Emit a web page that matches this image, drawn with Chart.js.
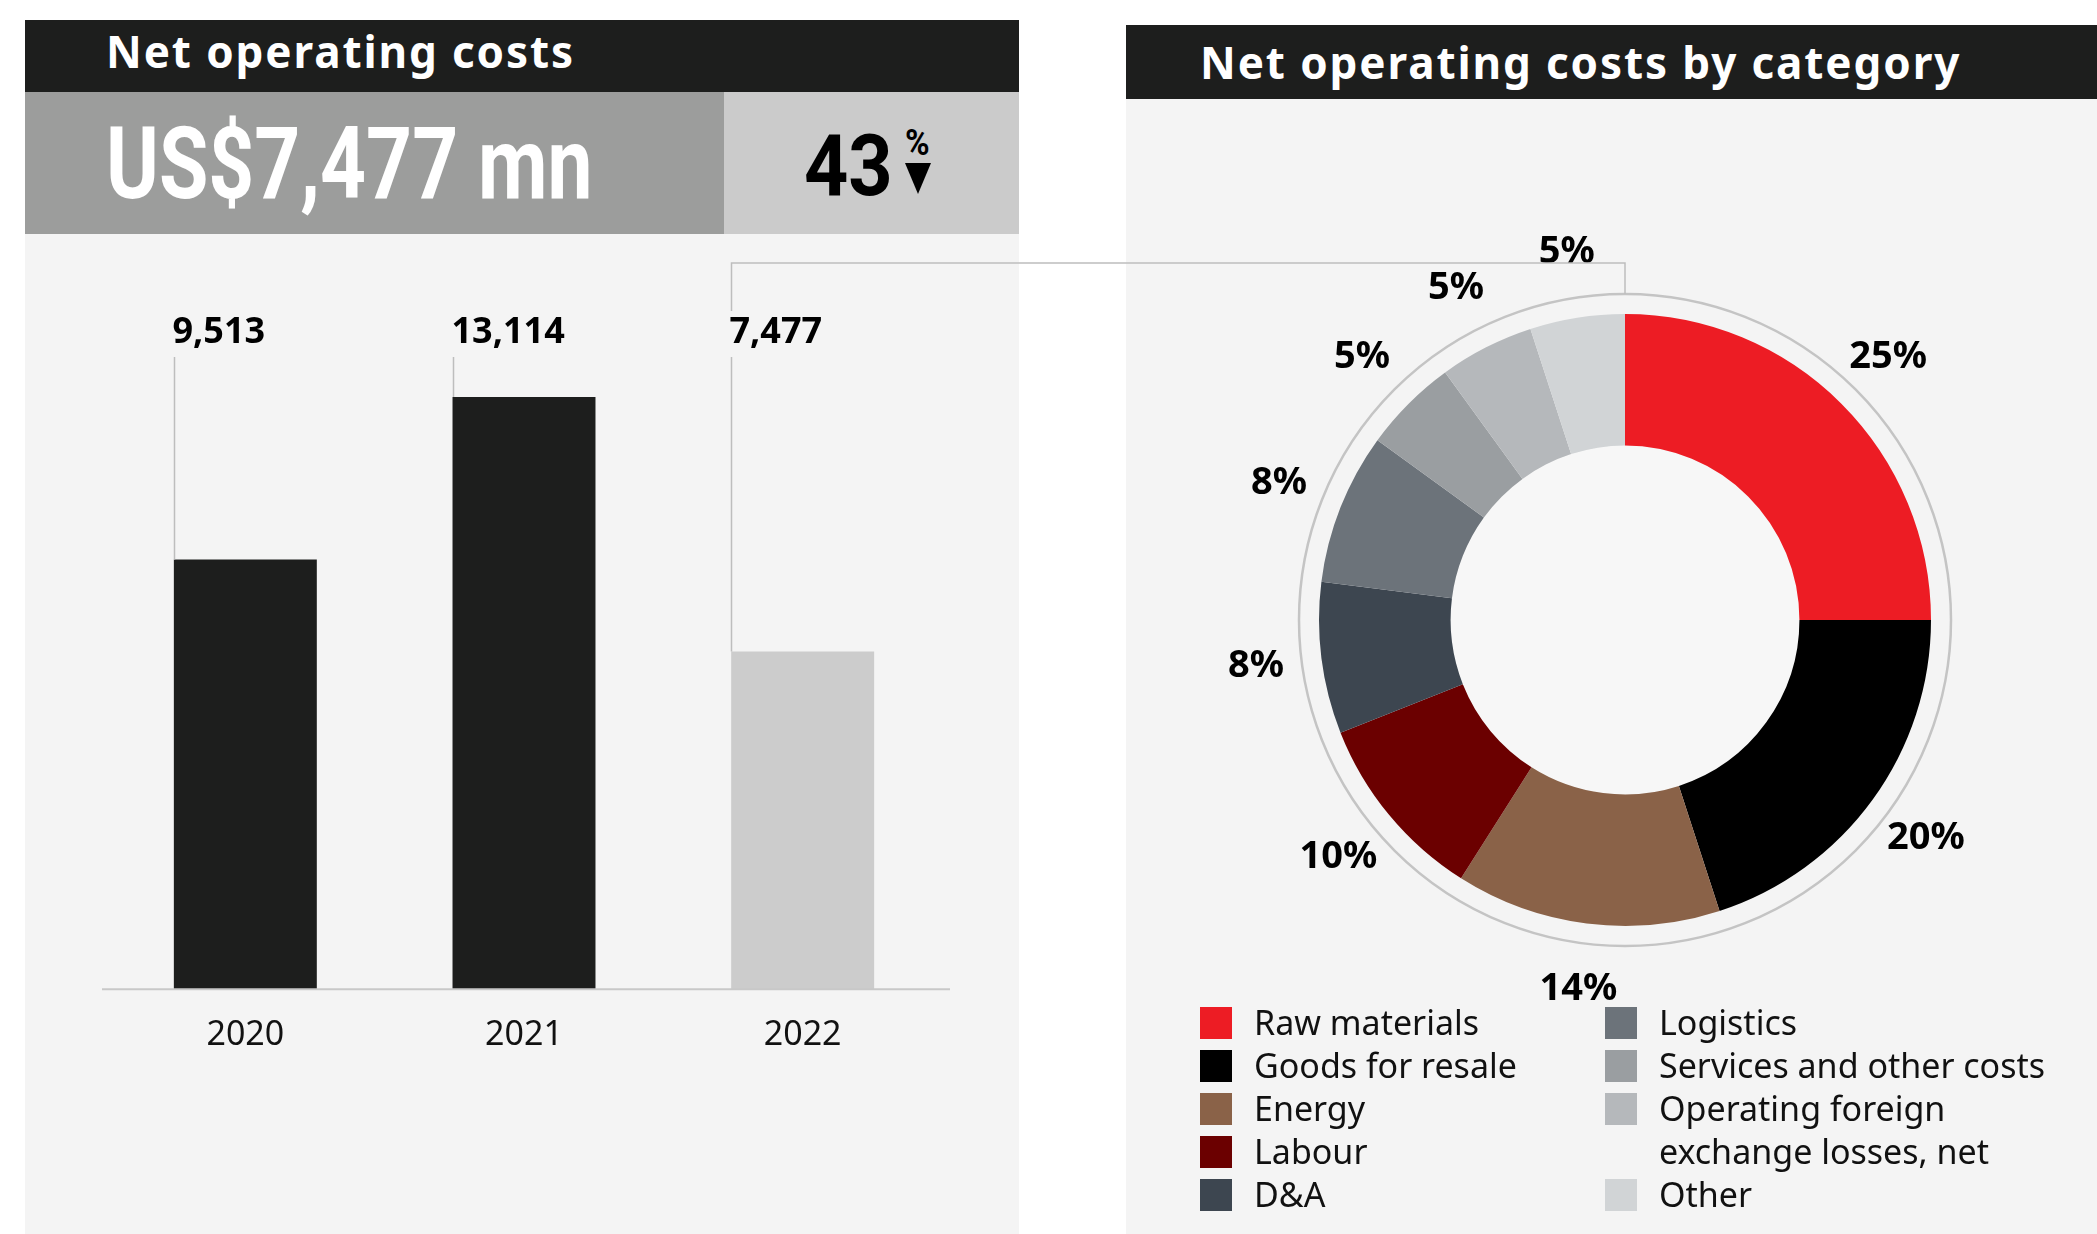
<!DOCTYPE html>
<html lang="en">
<head>
<meta charset="UTF-8">
<title>Net operating costs</title>
<script src="https://cdn.jsdelivr.net/npm/chart.js@4.4.0/dist/chart.umd.min.js"></script>
<style>
  body { margin: 0; background: #ffffff; font-family: "Noto Sans", sans-serif; }
  #page { position: relative; width: 2097px; height: 1234px; overflow: hidden; }
  .hdr { position: absolute; background: #1d1e1d; color: #ffffff; font-weight: 700; font-size: 44px; letter-spacing: 1.9px; }
  .hdr span { position: absolute; left: 0; white-space: nowrap; }
  #hdrL { left: 25px; top: 20px; width: 994px; height: 72px; line-height: 72px; }
  #hdrL span { left: 81px; top: -5px; }
  #hdrR { left: 1126px; top: 25px; width: 971px; height: 74px; line-height: 74px; }
  #hdrR span { left: 74px; top: 0; }
  #kpiL { position: absolute; left: 25px; top: 92px; width: 699px; height: 142px; background: #9c9d9c; }
  #kpiR { position: absolute; left: 724px; top: 92px; width: 295px; height: 142px; background: #cbcbcb; }
  .cond { position: absolute; font-family: Roboto, sans-serif; font-weight: 700; white-space: nowrap; transform-origin: 0 0; }
  #kpiVal { left: 81px; top: 22px; font-size: 100px; line-height: 100px; color: #ffffff; }
  #kpiPct { left: 80px; top: 31px; font-size: 86px; line-height: 86px; color: #000000; }
  #pctSign { left: 181px; top: 33px; font-size: 36px; line-height: 36px; color: #000000; }
  #arrow { position: absolute; left: 181px; top: 71px; width: 0; height: 0;
           border-left: 13px solid transparent; border-right: 13px solid transparent; border-top: 31px solid #000; }
  #barBox { position: absolute; left: 25px; top: 234px; width: 994px; height: 1000px; background: #f4f4f4; }
  #pieBox { position: absolute; left: 1126px; top: 99px; width: 971px; height: 1135px; background: #f4f4f4; }
  canvas { position: absolute; left: 0; top: 0; }
  #legend { position: absolute; left: 74px; top: 902px; font-size: 34px; color: #111; }
  .col { position: absolute; top: 0; }
  .item { position: relative; padding-left: 54px; line-height: 43px; margin: 0; }
  .sw { position: absolute; left: 0; top: 6px; width: 32px; height: 32px; }
  #overlay { position: absolute; left: 0; top: 0; width: 2097px; height: 1234px; pointer-events: none; }
</style>
</head>
<body>
<div id="page">
  <div class="hdr" id="hdrL"><span>Net operating costs</span></div>
  <div id="kpiL"><span class="cond" id="kpiVal">US$7,477 mn</span></div>
  <div id="kpiR">
    <span class="cond" id="kpiPct">43</span>
    <span class="cond" id="pctSign">%</span>
    <div id="arrow"></div>
  </div>
  <div id="barBox"><canvas id="barChart" width="994" height="1000"></canvas></div>

  <div class="hdr" id="hdrR"><span>Net operating costs by category</span></div>
  <div id="pieBox">
    <canvas id="pieChart" width="971" height="1135"></canvas>
    <div id="legend"></div>
  </div>
  <svg id="overlay" width="2097" height="1234"></svg>
</div>

<script>
// ---- data ----
const years = ['2020', '2021', '2022'];
const costs = [9513, 13114, 7477];
const costLabels = ['9,513', '13,114', '7,477'];
const barColors = ['#1d1e1d', '#1d1e1d', '#cccccc'];

const categories = ['Raw materials', 'Goods for resale', 'Energy', 'Labour', 'D&A',
  'Logistics', 'Services and other costs', 'Operating foreign exchange losses, net', 'Other'];
const shares = [25, 20, 14, 10, 8, 8, 5, 5, 5];
const catColors = ['#ed1c24', '#000000', '#8a6248', '#6b0000', '#3d4650',
  '#6c737a', '#9a9ea1', '#b5b8bb', '#d1d4d6'];

// squeeze condensed headline numbers to the width they take in the picture
function fitWidth(id, w) {
  const el = document.getElementById(id);
  el.style.transform = 'scaleX(' + (w / el.offsetWidth) + ')';
}
fitWidth('kpiVal', 487);
fitWidth('kpiPct', 89);
fitWidth('pctSign', 25);

// value labels + leader lines + base line of the bar chart
const barDecor = {
  id: 'barDecor',
  afterDatasetsDraw(chart) {
    const ctx = chart.ctx, area = chart.chartArea;
    const meta = chart.getDatasetMeta(0);
    const labelY = area.top - 24;
    ctx.save();
    ctx.strokeStyle = '#c8c8c8';
    ctx.lineWidth = 2;
    ctx.beginPath();
    ctx.moveTo(area.left - 4, area.bottom);
    ctx.lineTo(area.right + 8, area.bottom);
    ctx.stroke();

    meta.data.forEach((bar, i) => {
      const x = Math.round(bar.x - bar.width / 2) + 0.5;
      ctx.strokeStyle = '#bdbdbd';
      ctx.lineWidth = 1.5;
      ctx.beginPath();
      ctx.moveTo(x, labelY + 24);
      ctx.lineTo(x, bar.y);
      ctx.stroke();
      ctx.fillStyle = '#000';
      ctx.font = '700 36px "Noto Sans"';
      ctx.textAlign = 'left';
      ctx.textBaseline = 'middle';
      ctx.fillText(costLabels[i], x - 2, labelY);
    });
    ctx.restore();
  }
};

const barChart = new Chart(document.getElementById('barChart'), {
  type: 'bar',
  data: {
    labels: years,
    datasets: [{ data: costs, backgroundColor: barColors, borderWidth: 0,
      categoryPercentage: 1, barPercentage: 0.513 }]
  },
  options: {
    responsive: false,
    animation: false,
    layout: { padding: { left: 81, right: 77, top: 123, bottom: 152 } },
    plugins: { legend: { display: false }, tooltip: { enabled: false } },
    scales: {
      y: { display: false, min: 0, max: 14000 },
      x: {
        grid: { display: false, drawTicks: false },
        border: { display: false },
        ticks: { color: '#111', padding: 26, font: { family: 'Noto Sans', size: 34 } }
      }
    }
  },
  plugins: [barDecor]
});

// ring around the doughnut + percentage labels
const pieDecor = {
  id: 'pieDecor',
  beforeDatasetsDraw(chart) {
    const arc = chart.getDatasetMeta(0).data[0];
    const ctx = chart.ctx;
    ctx.save();
    ctx.strokeStyle = '#c4c4c4';
    ctx.lineWidth = 2.5;
    ctx.beginPath();
    ctx.arc(arc.x, arc.y, arc.outerRadius + 20, 0, Math.PI * 2);
    ctx.stroke();
    ctx.fillStyle = '#f7f7f7';
    ctx.beginPath();
    ctx.arc(arc.x, arc.y, arc.innerRadius, 0, Math.PI * 2);
    ctx.fill();
    ctx.restore();
  },
  afterDatasetsDraw(chart) {
    const ctx = chart.ctx;
    ctx.save();
    ctx.fillStyle = '#000';
    ctx.font = '700 38px "Noto Sans"';
    ctx.textAlign = 'center';
    ctx.textBaseline = 'middle';
    chart.getDatasetMeta(0).data.forEach((arc, i) => {
      const a = (arc.startAngle + arc.endAngle) / 2;
      const r = arc.outerRadius + 66;
      ctx.fillText(shares[i] + '%', arc.x + Math.cos(a) * r, arc.y + Math.sin(a) * r);
    });
    ctx.restore();
  }
};

const pieChart = new Chart(document.getElementById('pieChart'), {
  type: 'doughnut',
  data: {
    labels: categories,
    datasets: [{ data: shares, backgroundColor: catColors, borderWidth: 0 }]
  },
  options: {
    responsive: false,
    animation: false,
    cutout: '57%',
    layout: { padding: { left: 193, right: 166, top: 215, bottom: 308 } },
    plugins: { legend: { display: false }, tooltip: { enabled: false } }
  },
  plugins: [pieDecor]
});

// legend in two columns
const legend = document.getElementById('legend');
[[0, 5, 0], [5, 9, 405]].forEach(([from, to, left]) => {
  const col = document.createElement('div');
  col.className = 'col';
  col.style.left = left + 'px';
  col.style.width = (left ? 450 : 400) + 'px';
  for (let i = from; i < to; i++) {
    const item = document.createElement('div');
    item.className = 'item';
    item.innerHTML = '<span class="sw" style="background:' + catColors[i] + '"></span>';
    item.appendChild(document.createTextNode(categories[i]));
    col.appendChild(item);
  }
  legend.appendChild(col);
});

// connector from the 2022 bar to the doughnut
(function () {
  const bar = barChart.getDatasetMeta(0).data[2];
  const arc = pieChart.getDatasetMeta(0).data[0];
  const bx = 25 + Math.round(bar.x - bar.width / 2) + 0.5;
  const labelTop = 234 + barChart.chartArea.top - 46;
  const topY = 263;
  const px = 1126 + arc.x;
  const ringTop = 99 + arc.y - arc.outerRadius - 20;
  const svg = document.getElementById('overlay');
  svg.innerHTML = '<path d="M' + bx + ' ' + labelTop + ' V' + topY + ' H' + px + ' V' + ringTop +
    '" fill="none" stroke="#bdbdbd" stroke-width="1.5"/>';
})();
</script>
</body>
</html>
